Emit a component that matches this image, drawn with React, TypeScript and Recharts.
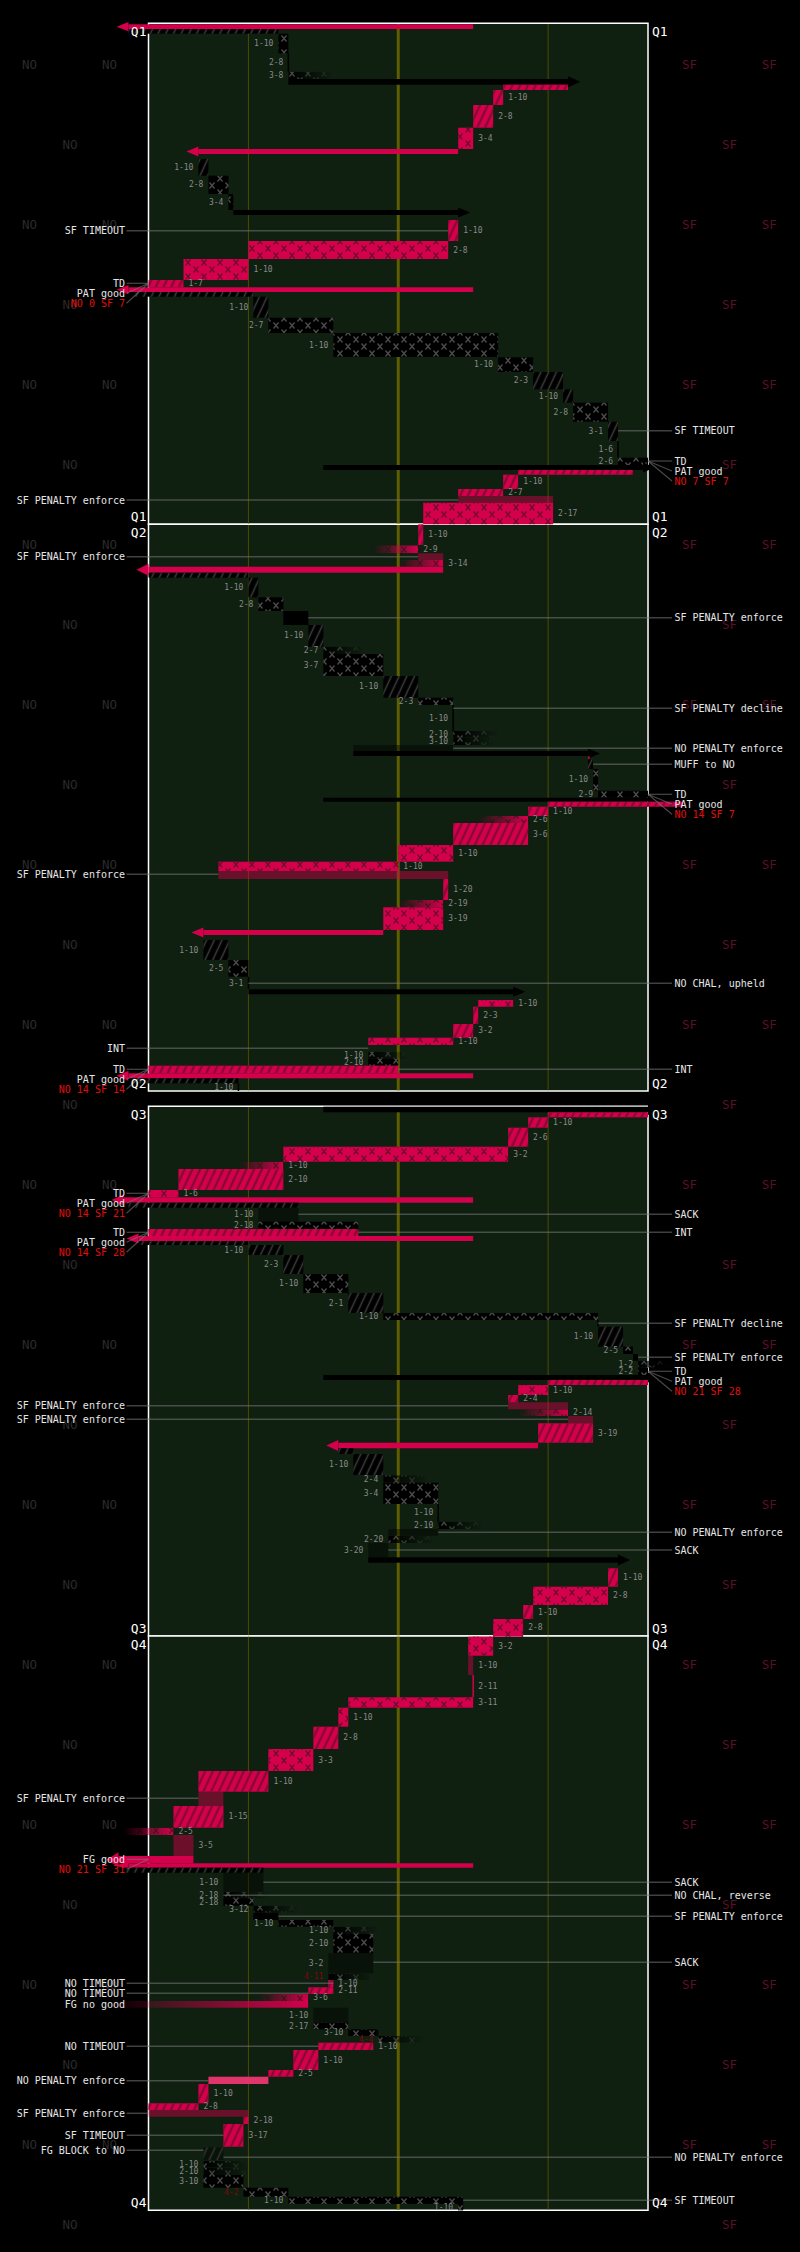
import React from "react";
import {
  ComposedChart,
  XAxis,
  YAxis,
  ReferenceArea,
  ReferenceLine,
  ReferenceDot,
} from "recharts";

type Team = "NO" | "SF";
// [start time, end time, from yard, to yard, offense, kind, down-distance]
type Play = [number, number, number, number, Team, string, string?];

// time axis: elapsed minutes, field axis: yards (0 = left goal line)
const quarterNames = ["Q1", "Q2", "Q3", "Q4"];
const quarterStart = [0, 50.1, 108.3, 161.27];
const quarterEnd = [50.1, 106.77, 161.27, 218.7];

const q1Plays: Play[] = [
  [0.1, 0.57, 65, -4, "SF", "kick"],
  [0.57, 1.04, -4, 26, "NO", "ret"],
  [1.04, 3.0, 26, 28, "NO", "run", "1-10"],
  [3.0, 4.84, 28, 28, "NO", "zero", "2-8"],
  [4.84, 5.57, 28, 37, "NO", "inc", "3-8"],
  [5.57, 6.14, 28, 84, "NO", "kick"],
  [6.14, 6.67, 84, 71, "SF", "ret"],
  [6.67, 8.17, 71, 69, "SF", "pass", "1-10"],
  [8.17, 10.44, 69, 65, "SF", "pass", "2-8"],
  [10.44, 12.57, 65, 62, "SF", "run", "3-4"],
  [12.57, 13.07, 62, 10, "SF", "kick"],
  [13.57, 15.24, 10, 12, "NO", "pass", "1-10"],
  [15.24, 17.07, 12, 16, "NO", "run", "2-8"],
  [17.07, 18.67, 16, 17, "NO", "run", "3-4"],
  [18.67, 19.17, 17, 62, "NO", "kick"],
  [19.67, 21.77, 62, 60, "SF", "pass", "1-10"],
  [21.77, 23.57, 60, 20, "SF", "run", "2-8"],
  [23.57, 25.67, 20, 7, "SF", "run", "1-10"],
  [25.67, 26.4, 7, 0, "SF", "pass", "1-7"],
  [26.4, 26.87, 65, -4, "SF", "kick"],
  [26.87, 27.34, -3, 21, "NO", "ret"],
  [27.34, 29.44, 21, 24, "NO", "pass", "1-10"],
  [29.44, 30.97, 24, 37, "NO", "run", "2-7"],
  [30.97, 33.37, 37, 70, "NO", "run", "1-10"],
  [33.4, 34.87, 70, 77, "NO", "run", "1-10"],
  [34.87, 36.6, 77, 83, "NO", "pass", "2-3"],
  [36.6, 37.94, 83, 85, "NO", "pass", "1-10"],
  [37.94, 39.84, 85, 92, "NO", "run", "2-8"],
  [39.84, 41.77, 92, 94, "NO", "pass", "3-1"],
  [41.77, 43.44, 94, 94, "NO", "zero", "1-6"],
  [43.44, 44.17, 94, 100, "NO", "run", "2-6"],
  [44.17, 44.67, 35, 99, "NO", "kick"],
  [44.67, 45.14, 97, 74, "SF", "ret"],
  [45.14, 46.57, 74, 71, "SF", "pass", "1-10"],
  [46.57, 47.27, 71, 62, "SF", "pass", "2-7"],
  [47.27, 47.94, 62, 81, "SF", "penL"],
  [47.94, 50.1, 81, 55, "SF", "run", "2-17"],
];

const q2Plays: Play[] = [
  [50.1, 52.17, 55, 54, "SF", "pass", "1-10"],
  [52.2, 53.0, 54, 45, "SF", "inc", "2-9"],
  [53.0, 53.67, 54, 59, "SF", "penL"],
  [53.67, 54.34, 59, 50, "SF", "inc", "3-14"],
  [54.34, 54.94, 59, 0, "SF", "kick"],
  [54.94, 55.44, 0, 20, "NO", "ret"],
  [55.44, 57.4, 20, 22, "NO", "pass", "1-10"],
  [57.4, 58.77, 22, 27, "NO", "run", "2-8"],
  [58.77, 60.17, 27, 32, "NO", "penG"],
  [60.17, 62.34, 32, 35, "NO", "pass", "1-10"],
  [62.34, 63.07, 35, 43, "NO", "inc", "2-7"],
  [63.07, 65.27, 35, 47, "NO", "run", "3-7"],
  [65.27, 67.44, 47, 54, "NO", "pass", "1-10"],
  [67.44, 68.17, 54, 61, "NO", "run", "2-3"],
  [68.17, 70.77, 61, 61, "NO", "zero", "1-10"],
  [70.77, 71.44, 61, 70, "NO", "inc", "2-10"],
  [71.44, 72.17, 61, 69, "NO", "inc", "3-10"],
  [72.17, 72.77, 61, 41, "NO", "penL"],
  [72.77, 73.27, 41, 88, "NO", "kick"],
  [73.3, 73.6, 88.3, 88, "SF", "run"],
  [73.6, 74.57, 88, 89, "NO", "ret"],
  [74.57, 76.74, 89, 90, "NO", "run", "1-10"],
  [76.74, 77.44, 90, 100, "NO", "run", "2-9"],
  [77.44, 77.84, 35, 100, "NO", "kick"],
  [77.84, 78.34, 107, 80, "SF", "ret"],
  [78.34, 79.27, 80, 76, "SF", "pass", "1-10"],
  [79.27, 79.97, 76, 66, "SF", "inc", "2-6"],
  [79.97, 82.17, 76, 61, "SF", "pass", "3-6"],
  [82.17, 83.84, 61, 50, "SF", "run", "1-10"],
  [83.84, 84.77, 50, 14, "SF", "run", "1-10"],
  [84.77, 85.57, 14, 60, "SF", "penL"],
  [85.57, 87.67, 60, 59, "SF", "pass", "1-20"],
  [87.67, 88.4, 59, 50, "SF", "inc", "2-19"],
  [88.4, 90.67, 59, 47, "SF", "run", "3-19"],
  [90.67, 91.17, 47, 11, "SF", "kick"],
  [91.67, 93.67, 11, 16, "NO", "pass", "1-10"],
  [93.67, 95.34, 16, 20, "NO", "run", "2-5"],
  [95.34, 96.6, 20, 20, "NO", "zero", "3-1"],
  [96.6, 97.1, 20, 73, "NO", "kick"],
  [97.67, 98.34, 73, 66, "SF", "run", "1-10"],
  [98.34, 100.07, 66, 65, "SF", "pass", "2-3"],
  [100.07, 101.44, 65, 61, "SF", "pass", "3-2"],
  [101.44, 102.17, 61, 44, "SF", "run", "1-10"],
  [102.84, 103.54, 44, 52, "NO", "inc", "1-10"],
  [103.54, 104.24, 44, 50, "NO", "run", "2-10"],
  [104.24, 105.0, 50, 0, "SF", "ret"],
  [105.0, 105.5, 65, -4, "SF", "kick"],
  [105.5, 106.0, -4, 18, "NO", "ret"],
  [106.0, 106.77, 18, 18, "NO", "zero", "1-10"],
];

const q3Plays: Play[] = [
  [108.34, 108.9, 35, 100, "NO", "kick"],
  [108.9, 109.4, 100, 80, "SF", "ret"],
  [109.4, 110.44, 80, 76, "SF", "pass", "1-10"],
  [110.44, 112.34, 76, 72, "SF", "pass", "2-6"],
  [112.34, 113.84, 72, 27, "SF", "run", "3-2"],
  [113.84, 114.57, 27, 18, "SF", "inc", "1-10"],
  [114.57, 116.67, 27, 6, "SF", "pass", "2-10"],
  [116.67, 117.4, 6, 0, "SF", "run", "1-6"],
  [117.4, 117.94, 65, -5, "SF", "kick"],
  [117.94, 118.44, -4, 30, "NO", "ret"],
  [118.44, 119.84, 30, 22, "NO", "sack", "1-10"],
  [119.84, 120.57, 22, 42, "NO", "run", "2-18"],
  [120.57, 121.27, 42, 0, "SF", "ret"],
  [121.27, 121.77, 65, -2, "SF", "kick"],
  [121.77, 122.17, -2, 20, "NO", "ret"],
  [122.17, 123.17, 20, 27, "NO", "pass", "1-10"],
  [123.17, 125.07, 27, 31, "NO", "pass", "2-3"],
  [125.07, 126.97, 31, 40, "NO", "run", "1-10"],
  [126.97, 128.97, 40, 47, "NO", "pass", "2-1"],
  [128.97, 129.67, 47, 90, "NO", "run", "1-10"],
  [129.67, 130.34, 90, 90, "NO", "zero"],
  [130.34, 132.34, 90, 95, "NO", "pass", "1-10"],
  [132.34, 133.07, 95, 97, "NO", "run", "2-5"],
  [133.07, 133.74, 97, 98, "NO", "penG"],
  [133.74, 134.44, 98, 104, "NO", "inc", "1-2"],
  [134.44, 135.17, 98, 100, "NO", "run", "2-2"],
  [135.17, 135.67, 35, 100, "NO", "kick"],
  [135.67, 136.17, 100, 80, "SF", "ret"],
  [136.17, 137.17, 80, 74, "SF", "run", "1-10"],
  [137.17, 137.9, 74, 72, "SF", "pass", "2-4"],
  [137.9, 138.6, 72, 84, "SF", "penL"],
  [138.6, 139.27, 84, 74, "SF", "inc", "2-14"],
  [139.27, 140.0, 84, 89, "SF", "penL"],
  [140.0, 141.94, 89, 78, "SF", "pass", "3-19"],
  [141.94, 142.5, 78, 38, "SF", "kick"],
  [142.5, 143.07, 38, 41, "NO", "ret"],
  [143.07, 145.17, 41, 47, "NO", "pass", "1-10"],
  [145.2, 145.94, 47, 56, "NO", "inc", "2-4"],
  [145.94, 148.07, 47, 58, "NO", "run", "3-4"],
  [148.07, 149.84, 58, 58, "NO", "zero", "1-10"],
  [149.84, 150.57, 58, 67, "NO", "inc", "2-10"],
  [150.57, 151.24, 58, 48, "NO", "penL"],
  [151.24, 151.97, 48, 57, "NO", "inc", "2-20"],
  [151.97, 153.4, 48, 44, "NO", "sack", "3-20"],
  [153.4, 153.94, 44, 94, "NO", "kick"],
  [154.5, 156.34, 94, 92, "SF", "pass", "1-10"],
  [156.34, 158.17, 92, 77, "SF", "run", "2-8"],
  [158.17, 159.57, 77, 75, "SF", "pass", "1-10"],
  [159.57, 161.34, 75, 69, "SF", "run", "2-8"],
];

const q4Plays: Play[] = [
  [161.34, 163.24, 69, 64, "SF", "run", "3-2"],
  [163.24, 165.17, 64, 65, "SF", "passL", "1-10"],
  [165.17, 167.4, 65, 65, "SF", "zero", "2-11"],
  [167.4, 168.44, 65, 40, "SF", "run", "3-11"],
  [168.44, 170.34, 40, 38, "SF", "run", "1-10"],
  [170.34, 172.57, 38, 33, "SF", "pass", "2-8"],
  [172.57, 174.77, 33, 24, "SF", "run", "3-3"],
  [174.77, 176.84, 24, 10, "SF", "pass", "1-10"],
  [176.84, 178.27, 10, 15, "SF", "penL"],
  [178.27, 180.44, 15, 5, "SF", "pass", "1-15"],
  [180.44, 181.17, 5, -5, "SF", "inc", "2-5"],
  [181.17, 183.27, 5, 9, "SF", "passL", "3-5"],
  [183.27, 184.0, 9, -6, "SF", "kick"],
  [184.0, 184.44, 65, -4, "SF", "kick"],
  [184.44, 184.94, -5, 23, "NO", "ret"],
  [184.94, 186.84, 23, 15, "NO", "sack", "1-10"],
  [186.84, 187.5, 15, 24, "NO", "inc", "2-18"],
  [187.5, 188.24, 15, 21, "NO", "run", "2-18"],
  [188.24, 188.94, 21, 30, "NO", "inc", "3-12"],
  [188.94, 189.67, 21, 26, "NO", "penG"],
  [189.67, 190.34, 26, 37, "NO", "run", "1-10"],
  [190.34, 191.07, 37, 46, "NO", "inc", "1-10"],
  [191.07, 193.0, 37, 45, "NO", "run", "2-10"],
  [193.0, 195.0, 45, 36, "NO", "sack", "3-2"],
  [195.0, 195.67, 36, 45, "NO", "inc", "4-11"],
  [195.67, 196.4, 36, 37, "SF", "pass", "1-10"],
  [196.4, 197.07, 37, 32, "SF", "pass", "2-11"],
  [197.07, 197.77, 32, 22, "SF", "inc", "3-6"],
  [197.77, 198.44, 32, -6, "SF", "fgmiss"],
  [198.44, 199.94, 40, 33, "NO", "sack", "1-10"],
  [199.94, 200.6, 33, 40, "NO", "run", "2-17"],
  [200.6, 201.27, 40, 46, "NO", "run", "3-10"],
  [201.27, 201.94, 46, 55, "NO", "inc", "4-4"],
  [201.94, 202.67, 45, 34, "SF", "pass", "1-10"],
  [202.67, 204.67, 34, 29, "SF", "pass", "1-10"],
  [204.67, 205.34, 29, 24, "SF", "pass", "2-5"],
  [205.34, 206.07, 24, 12, "SF", "penG"],
  [206.07, 208.0, 12, 10, "SF", "pass", "1-10"],
  [208.0, 208.67, 10, 0, "SF", "pass", "2-8"],
  [208.67, 209.34, 0, 20, "SF", "penL"],
  [209.34, 210.07, 20, 19, "SF", "pass", "2-18"],
  [210.07, 212.34, 19, 15, "SF", "pass", "3-17"],
  [212.4, 213.67, 15, 11, "SF", "blk"],
  [213.74, 214.4, 11, 20, "NO", "inc", "1-10"],
  [214.4, 215.17, 11, 20, "NO", "inc", "2-10"],
  [215.17, 216.44, 11, 19, "NO", "run", "3-10"],
  [216.44, 217.34, 19, 28, "NO", "run", "4-2"],
  [217.34, 218.07, 28, 63, "NO", "run", "1-10"],
  [218.07, 218.7, 63, 62, "NO", "run", "1-10"],
];

// [time, side, text, yard the leader reaches]
const playNotes: [number, "L" | "R", string, number | null][] = [
  [20.74, "L", "SF TIMEOUT", 60],
  [40.74, "R", "SF TIMEOUT", 94],
  [47.67, "L", "SF PENALTY enforce", 62],
  [53.34, "L", "SF PENALTY enforce", 54],
  [59.44, "R", "SF PENALTY enforce", 32],
  [68.5, "R", "SF PENALTY decline", 61],
  [72.5, "R", "NO PENALTY enforce", 61],
  [74.1, "R", "MUFF to NO", 89],
  [85.1, "L", "SF PENALTY enforce", 14],
  [96.0, "R", "NO CHAL, upheld", 20],
  [102.5, "L", "INT", 44],
  [104.6, "R", "INT", 50],
  [119.1, "R", "SACK", 30],
  [120.9, "R", "INT", 42],
  [130.0, "R", "SF PENALTY decline", 90],
  [133.4, "R", "SF PENALTY enforce", 98],
  [138.24, "L", "SF PENALTY enforce", 72],
  [139.6, "L", "SF PENALTY enforce", 84],
  [150.9, "R", "NO PENALTY enforce", 58],
  [152.67, "R", "SACK", 48],
  [177.5, "L", "SF PENALTY enforce", 10],
  [185.9, "R", "SACK", 23],
  [187.2, "R", "NO CHAL, reverse", 15],
  [189.3, "R", "SF PENALTY enforce", 26],
  [193.9, "R", "SACK", 45],
  [196.0, "L", "NO TIMEOUT", 37],
  [197.0, "L", "NO TIMEOUT", 32],
  [198.1, "L", "FG no good", null],
  [202.3, "L", "NO TIMEOUT", 34],
  [205.74, "L", "NO PENALTY enforce", 12],
  [209.0, "L", "SF PENALTY enforce", 0],
  [211.2, "L", "SF TIMEOUT", 15],
  [212.7, "L", "FG BLOCK to NO", 11],
  [213.4, "R", "NO PENALTY enforce", 15],
  [217.7, "R", "SF TIMEOUT", 63],
];

const scoreNotes: [number, "L" | "R", string[]][] = [
  [26.0, "L", ["TD", "PAT good", "NO 0 SF 7"]],
  [43.77, "R", ["TD", "PAT good", "NO 7 SF 7"]],
  [77.1, "R", ["TD", "PAT good", "NO 14 SF 7"]],
  [104.6, "L", ["TD", "PAT good", "NO 14 SF 14"]],
  [117.0, "L", ["TD", "PAT good", "NO 14 SF 21"]],
  [120.9, "L", ["TD", "PAT good", "NO 14 SF 28"]],
  [134.8, "R", ["TD", "PAT good", "NO 21 SF 28"]],
  [183.6, "L", ["FG good", "NO 21 SF 31"]],
];

const allPlays = [...q1Plays, ...q2Plays, ...q3Plays, ...q4Plays];

const PINK = "#d4004c";
const FONT = "'DejaVu Sans Mono', monospace";
const LEFT_TEXT = -4.7;
const LEFT_LINE = -4.4;
const RIGHT_TEXT = 105.3;
const RIGHT_LINE = 104.8;

function textShape(s: string, anchor: string, fill: string, size: number) {
  return (p: any) => (
    <text
      x={p.cx}
      y={p.cy}
      textAnchor={anchor}
      dominantBaseline="central"
      fill={fill}
      fontSize={size}
      fontFamily={FONT}
    >
      {s}
    </text>
  );
}

function playShape(play: Play) {
  const [, , from, to, team, kind, label] = play;
  const sf = team === "SF";
  const goingLeft = to < from;
  return (props: any) => {
    const { x, y } = props;
    const w = props.width;
    const h = props.height;
    const base = sf ? PINK : "#000";
    const cross = sf ? "url(#crossSF)" : "url(#crossNO)";
    const hatch = sf ? "url(#hatchSF)" : "url(#hatchNO)";
    const r = (fill: string, op = 1) => (
      <rect x={x} y={y} width={w} height={h} fill={fill} opacity={op} />
    );
    let body: React.ReactNode = null;
    if (kind === "run") body = <>{r(base)}{r(cross)}</>;
    else if (kind === "pass" || kind === "ret") body = <>{r(base)}{r(hatch)}</>;
    else if (kind === "inc")
      body = <g mask={goingLeft ? "url(#fadeL)" : "url(#fadeR)"}>{r(base)}{r(cross)}</g>;
    else if (kind === "penL" || kind === "sack")
      body = r(sf ? "rgba(214,0,76,0.45)" : "rgba(0,0,0,0.42)");
    else if (kind === "passL")
      body = <>{r("rgba(214,0,76,0.45)")}{r(hatch, 0.6)}</>;
    else if (kind === "penG") body = r(sf ? "#e0356c" : "#000");
    else if (kind === "blk") body = <>{r("rgba(0,0,0,0.4)")}{r("url(#hatchNO)", 0.8)}</>;
    else if (kind === "zero")
      body = <rect x={x - 0.75} y={y} width={1.5} height={h} fill={base} />;
    else if (kind === "kick" || kind === "fgmiss") {
      const cy = y + h / 2;
      const half = Math.max(h, 4.5);
      const bx = goingLeft ? x : x + w;
      const tip = goingLeft ? x - 12 : x + w + 12;
      const arrow = (
        <>
          {r(base)}
          <polygon points={`${bx},${cy - half} ${tip},${cy} ${bx},${cy + half}`} fill={base} />
        </>
      );
      body = kind === "fgmiss" ? <g mask="url(#fadeL)">{arrow}</g> : arrow;
    }
    let txt: React.ReactNode = null;
    if (label) {
      txt = (
        <text
          x={sf ? x + w + 5 : x - 5}
          y={y + h / 2}
          textAnchor={sf ? "start" : "end"}
          dominantBaseline="central"
          fontSize={8}
          fontFamily={FONT}
          fill={label.startsWith("4-") ? "#7a0a0a" : "#8a8a8a"}
        >
          {label}
        </text>
      );
    }
    return (
      <g>
        {body}
        {txt}
      </g>
    );
  };
}

const watermarkRows = Array.from({ length: 28 }, (_, k) => k);

export default function App() {
  return (
    <div style={{ width: 800, height: 2252, background: "#000", position: "relative" }}>
      <style>{"body{margin:0;background:#000}"}</style>
      <svg width={0} height={0} style={{ position: "absolute" }}>
        <defs>
          <pattern id="hatchSF" patternUnits="userSpaceOnUse" width={7} height={7} patternTransform="rotate(25)">
            <line x1={3.5} y1={-1} x2={3.5} y2={8} stroke="#7a0a2e" strokeWidth={2} />
          </pattern>
          <pattern id="hatchNO" patternUnits="userSpaceOnUse" width={7} height={7} patternTransform="rotate(25)">
            <line x1={3.5} y1={-1} x2={3.5} y2={8} stroke="#3c3c3c" strokeWidth={1.5} />
          </pattern>
          <pattern id="crossSF" patternUnits="userSpaceOnUse" width={16} height={14}>
            <path d="M1.5,0.5 L6.5,6.5 M6.5,0.5 L1.5,6.5 M9.5,7.5 L14.5,13.5 M14.5,7.5 L9.5,13.5" stroke="#6e0a2a" strokeWidth={1.3} fill="none" />
          </pattern>
          <pattern id="crossNO" patternUnits="userSpaceOnUse" width={16} height={14}>
            <path d="M1.5,0.5 L6.5,6.5 M6.5,0.5 L1.5,6.5 M9.5,7.5 L14.5,13.5 M14.5,7.5 L9.5,13.5" stroke="#4c4c4c" strokeWidth={1.3} fill="none" />
          </pattern>
          <linearGradient id="gFadeL" x1="0" x2="1" y1="0" y2="0">
            <stop offset="0" stopColor="#fff" stopOpacity={0} />
            <stop offset="1" stopColor="#fff" stopOpacity={1} />
          </linearGradient>
          <linearGradient id="gFadeR" x1="0" x2="1" y1="0" y2="0">
            <stop offset="0" stopColor="#fff" stopOpacity={1} />
            <stop offset="1" stopColor="#fff" stopOpacity={0} />
          </linearGradient>
          <mask id="fadeL" maskContentUnits="objectBoundingBox">
            <rect width={1} height={1} fill="url(#gFadeL)" />
          </mask>
          <mask id="fadeR" maskContentUnits="objectBoundingBox">
            <rect width={1} height={1} fill="url(#gFadeR)" />
          </mask>
        </defs>
      </svg>
      <ComposedChart
        width={800}
        height={2252}
        data={[]}
        margin={{ top: 23.3, right: 152, bottom: 41.7, left: 148.5 }}
      >
        <XAxis type="number" dataKey="x" domain={[0, 100]} hide allowDataOverflow />
        <YAxis type="number" dataKey="y" domain={[0, 218.7]} reversed hide allowDataOverflow />

        {watermarkRows.map((k) => {
          const t = 4.12 + 8 * k;
          const noXs = k % 2 === 0 ? [-23.8, -7.8] : [-15.7];
          const sfXs = k % 2 === 0 ? [108.3, 124.3] : [116.3];
          return [
            ...noXs.map((xv, i) => (
              <ReferenceDot key={`wn${k}-${i}`} x={xv} y={t} ifOverflow="visible"
                shape={textShape("NO", "middle", "#2a2a2a", 12.5)} />
            )),
            ...sfXs.map((xv, i) => (
              <ReferenceDot key={`ws${k}-${i}`} x={xv} y={t} ifOverflow="visible"
                shape={textShape("SF", "middle", "#5a0f27", 12.5)} />
            )),
          ];
        })}

        {quarterNames.map((q, i) => (
          <ReferenceArea key={`f${q}`} x1={0} x2={100} y1={quarterStart[i]} y2={quarterEnd[i]}
            ifOverflow="visible" fill="#0f1f10" fillOpacity={1} stroke="#ffffff" strokeWidth={1.5} />
        ))}
        {quarterNames.map((q, i) =>
          [20, 50, 80].map((yl) => (
            <ReferenceArea key={`yl${q}${yl}`} x1={yl === 50 ? 49.7 : 19.9 + (yl - 20)}
              x2={yl === 50 ? 50.3 : 20.1 + (yl - 20)} y1={quarterStart[i] + 0.08} y2={quarterEnd[i] - 0.08}
              ifOverflow="visible" fill={yl === 50 ? "#5e5e00" : "#4d4d00"} fillOpacity={1} stroke="none" />
          ))
        )}

        {allPlays.map((p, i) => (
          <ReferenceArea key={`p${i}`} x1={p[2]} x2={p[3]} y1={p[0]} y2={p[1]}
            ifOverflow="visible" shape={playShape(p)} />
        ))}

        {playNotes.map(([t, side, , yd], i) =>
          yd === null ? null : (
            <ReferenceLine key={`nl${i}`} ifOverflow="visible" stroke="#777" strokeOpacity={0.55} strokeWidth={1.5}
              segment={side === "L" ? [{ x: LEFT_LINE, y: t }, { x: yd, y: t }] : [{ x: yd, y: t }, { x: RIGHT_LINE, y: t }]} />
          )
        )}
        {scoreNotes.map(([t, side, lines], i) =>
          lines.map((_, j) => (
            <ReferenceLine key={`sl${i}-${j}`} ifOverflow="visible" stroke="#777" strokeOpacity={0.6} strokeWidth={1.2}
              segment={side === "L" ? [{ x: LEFT_LINE, y: t + j }, { x: 0, y: t }] : [{ x: 100, y: t }, { x: RIGHT_LINE, y: t + j }]} />
          ))
        )}

        {playNotes.map(([t, side, text], i) => (
          <ReferenceDot key={`nt${i}`} x={side === "L" ? LEFT_TEXT : RIGHT_TEXT} y={t} ifOverflow="visible"
            shape={textShape(text, side === "L" ? "end" : "start", "#e6e6e6", 10)} />
        ))}
        {scoreNotes.map(([t, side, lines], i) =>
          lines.map((s, j) => (
            <ReferenceDot key={`st${i}-${j}`} x={side === "L" ? LEFT_TEXT : RIGHT_TEXT} y={t + j} ifOverflow="visible"
              shape={textShape(s, side === "L" ? "end" : "start", j === lines.length - 1 ? "#e00d0d" : "#e6e6e6", 10)} />
          ))
        )}

        {quarterNames.map((q, i) => [
          <ReferenceDot key={`qls${q}`} x={-0.4} y={quarterStart[i] + 0.8} ifOverflow="visible" shape={textShape(q, "end", "#fff", 13)} />,
          <ReferenceDot key={`qrs${q}`} x={100.8} y={quarterStart[i] + 0.8} ifOverflow="visible" shape={textShape(q, "start", "#fff", 13)} />,
          <ReferenceDot key={`qle${q}`} x={-0.4} y={quarterEnd[i] - 0.8} ifOverflow="visible" shape={textShape(q, "end", "#fff", 13)} />,
          <ReferenceDot key={`qre${q}`} x={100.8} y={quarterEnd[i] - 0.8} ifOverflow="visible" shape={textShape(q, "start", "#fff", 13)} />,
        ])}
      </ComposedChart>
    </div>
  );
}
